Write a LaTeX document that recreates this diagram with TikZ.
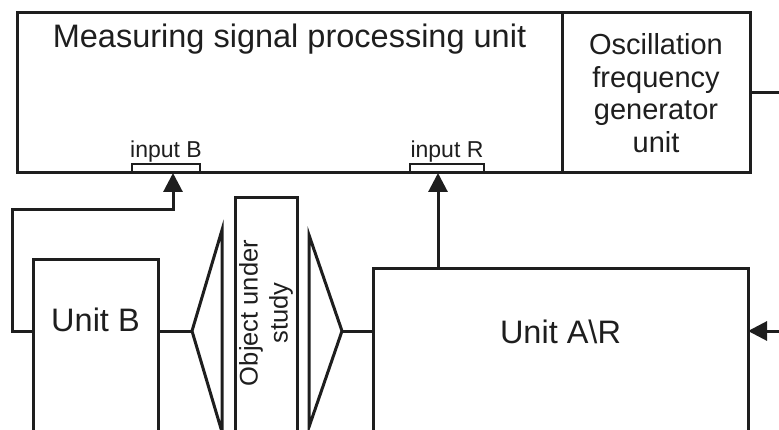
\documentclass[tikz,border=0pt]{standalone}
\usepackage{fontspec}
\setmainfont{Liberation Sans}
\usetikzlibrary{arrows.meta,positioning}
\definecolor{unitInk}{RGB}{30,30,30}

\begin{document}
\begin{tikzpicture}[x=1pt,y=-1pt,
  unitbox/.style={draw=unitInk,line width=3pt,outer sep=0pt,inner sep=0pt,anchor=north west},
  inputpad/.style={draw=unitInk,line width=1.7pt,outer sep=0pt,inner sep=0pt,minimum width=68pt,minimum height=9pt,anchor=south},
  inputlabel/.style={text=unitInk,font=\fontsize{23}{26}\selectfont,inner sep=0pt},
  bigtext/.style={text=unitInk,font=\fontsize{32.5}{38}\selectfont,inner sep=0pt},
  link/.style={draw=unitInk,line width=3pt},
  arrow/.style={link,-{Triangle[length=19pt,width=19pt]}}
]
  \clip (0,0) rectangle (779,430);
  % processing and generator units
  \node[unitbox,minimum width=545pt,minimum height=160pt] (meas) at (17,13) {};
  \node[bigtext,anchor=base] (measText) at ([yshift=-35pt]meas.north) {Measuring signal processing unit};
  \node[unitbox,minimum width=188pt,minimum height=160pt,align=center,text=unitInk,
        font=\fontsize{29}{32.5}\selectfont] (osc) at (meas.north east) {Oscillation\\frequency\\generator\\unit};
  \node[inputpad] (inB) at (166,173) {};
  \node[inputlabel,above=2pt of inB] (inBText) {input B};
  \node[inputpad,minimum width=74pt] (inR) at (447,173) {};
  \node[inputlabel,above=2pt of inR] (inRText) {input R};

  % lower units
  \node[unitbox,minimum width=125pt,minimum height=180pt] (unitB) at (33,260) {};
  \node[bigtext] (unitBText) at ([yshift=30pt]unitB.center) {Unit B};
  \node[unitbox,minimum width=62pt,minimum height=242pt] (obj) at (235,198) {};
  \node[text=unitInk,font=\fontsize{25.5}{30}\selectfont,align=center,rotate=90,inner sep=0pt] (objText)
        at ([yshift=6pt]obj.center) {Object under\\study};
  \node[unitbox,minimum width=375pt,minimum height=171pt] (unitAR) at (373,269) {};
  \node[bigtext] (unitARText) at ([yshift=23pt]unitAR.center) {Unit A\textbackslash R};

  % lenses
  \coordinate (lensL) at (192,331);
  \coordinate (lensR) at (342,331);
  \draw[link,line join=miter] (lensL) -- ++(30,-101) -- ++(0,202) -- cycle;
  \draw[link,line join=miter] (lensR) -- ++(-33,-96) -- ++(0,192) -- cycle;

  % connections
  \coordinate (feedR) at ([xshift=65pt]unitAR.north west);
  \coordinate (genOut) at (785,93);
  \coordinate (genIn) at (785,331);
  \draw[link] (unitB.east |- lensL) -- (lensL);
  \draw[link] (lensR) -- (lensR -| unitAR.west);
  \draw[arrow] (unitB.west |- lensL) -- ++(-21,0) -- ++(0,-121) -| ([xshift=7pt]inB.south);
  \draw[arrow] (feedR) -- (feedR |- inR.south);
  \draw[link] (osc.east) -- (genOut);
  \draw[arrow] (genIn) -- (genIn -| unitAR.east);
\end{tikzpicture}
\end{document}
